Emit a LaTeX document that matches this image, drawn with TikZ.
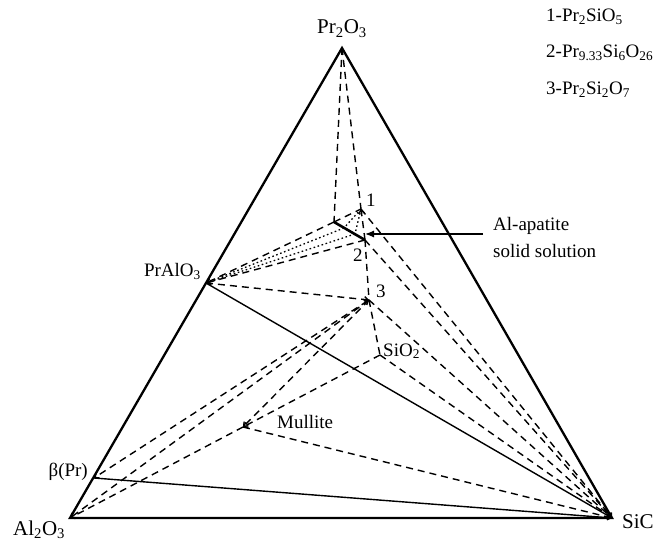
\documentclass[tikz,border=0pt]{standalone}
\usepackage{fontspec}
\setmainfont{Liberation Serif}
\usetikzlibrary{arrows.meta}

\begin{document}
\begin{tikzpicture}[
    x=1pt, y=-1pt,
    edge_line/.style={line width=2.3pt, line join=miter},
    tie_line/.style={line width=1.4pt},
    ss_line/.style={line width=2.6pt},
    dash_line/.style={line width=1.4pt, dash pattern=on 7pt off 5pt},
    dot_line/.style={line width=1.3pt, dash pattern=on 1.6pt off 2.6pt},
    to_tip/.style={-{Straight Barb[length=3.5pt, width=6pt]}},
    both_tips/.style={{Straight Barb[length=3.5pt, width=6pt]}-{Straight Barb[length=3.5pt, width=6pt]}},
    ptr_arrow/.style={line width=1.2pt, -{Latex[length=9pt, width=7pt]}},
    big_lbl/.style={font=\fontsize{21}{24}\selectfont, inner sep=0pt},
    lbl/.style={font=\fontsize{19}{22}\selectfont, inner sep=0pt}
]

\useasboundingbox (0,0) rectangle (672,545);

% corners of the diagram
\coordinate (pr2o3) at (342,48);
\coordinate (al2o3) at (70,518);
\coordinate (sic) at (612,518);

% compounds
\coordinate (pralo3) at (206,283);
\coordinate (bpr) at (94,478);
\coordinate (p1) at (361,209);
\coordinate (ss_end) at (334,222);
\coordinate (ss_a) at (344,228);
\coordinate (ss_b) at (355,234);
\coordinate (p2) at (365,240);
\coordinate (p3) at (369,300);
\coordinate (sio2) at (380,355);
\coordinate (mullite) at (243,427);

\draw[edge_line] (pr2o3) -- (al2o3) -- (sic) -- cycle;

\draw[tie_line] (pralo3) -- (sic);
\draw[tie_line] (bpr) -- (sic);

% Pr2O3 corner
\draw[dash_line] (pr2o3) -- (ss_end);
\draw[dash_line] (pr2o3) -- (p1);
\draw[dash_line] (ss_end) -- (p1);
\draw[dash_line, to_tip] (p2) -- (p1);
\draw[dash_line] (p2) -- (p3);
\draw[dash_line] (p3) -- (sio2);

% to PrAlO3
\draw[dash_line, to_tip] (ss_end) -- (pralo3);
\draw[dot_line] (p1) -- (ss_a);
\draw[dot_line] (p1) -- (ss_b);
\draw[dot_line] (ss_a) -- (pralo3);
\draw[dot_line] (ss_b) -- (pralo3);
\draw[dash_line, to_tip] (p2) -- (pralo3);
\draw[dash_line, to_tip] (pralo3) -- (p3);

% Al2O3 corner
\draw[dash_line, both_tips] (p3) -- (bpr);
\draw[dash_line, to_tip] (p3) -- (al2o3);
\draw[dash_line, to_tip] (p3) -- (mullite);
\draw[dash_line, to_tip] (sio2) -- (mullite);
\draw[dash_line, to_tip] (mullite) -- (al2o3);

% SiC corner
\draw[dash_line, to_tip] (p1) -- (sic);
\draw[dash_line, to_tip] (p2) -- (sic);
\draw[dash_line, to_tip] (p3) -- (sic);
\draw[dash_line, to_tip] (sio2) -- (sic);
\draw[dash_line, to_tip] (mullite) -- (sic);

\draw[ss_line] (ss_end) -- (p2);

% labels
\node[big_lbl, anchor=base] (t_pr2o3) at (342,34) {Pr\textsubscript{2}O\textsubscript{3}};
\node[big_lbl, anchor=base west] (t_al2o3) at (13,535) {Al\textsubscript{2}O\textsubscript{3}};
\node[big_lbl, anchor=base west] (t_sic) at (622,528) {SiC};
\node[lbl, anchor=base east] (t_pralo3) at (201,277) {PrAlO\textsubscript{3}};
\node[lbl, anchor=base east] (t_bpr) at (88,476) {β(Pr)};
\node[lbl, anchor=base west] (t_p1) at (366,207) {1};
\node[lbl, anchor=base west] (t_p2) at (353,262) {2};
\node[lbl, anchor=base west] (t_p3) at (376,298) {3};
\node[lbl, anchor=base west] (t_sio2) at (383,356) {SiO\textsubscript{2}};
\node[lbl, anchor=base west] (t_mullite) at (277,428) {Mullite};

\node[lbl, anchor=base west] (t_apatite) at (493,231) {Al-apatite};
\node[lbl, anchor=base west] (t_solid) at (493,258) {solid solution};
\coordinate (ss_tail) at ([xshift=-10pt, yshift=-3pt]t_apatite.base west);
\draw[ptr_arrow] (ss_tail) -- (p2 |- ss_tail);

% legend
\node[lbl, anchor=base west] (key1) at (546,22) {1-Pr\textsubscript{2}SiO\textsubscript{5}};
\node[lbl, anchor=base west] (key2) at (546,58) {2-Pr\textsubscript{9.33}Si\textsubscript{6}O\textsubscript{26}};
\node[lbl, anchor=base west] (key3) at (546,95) {3-Pr\textsubscript{2}Si\textsubscript{2}O\textsubscript{7}};

\end{tikzpicture}
\end{document}
